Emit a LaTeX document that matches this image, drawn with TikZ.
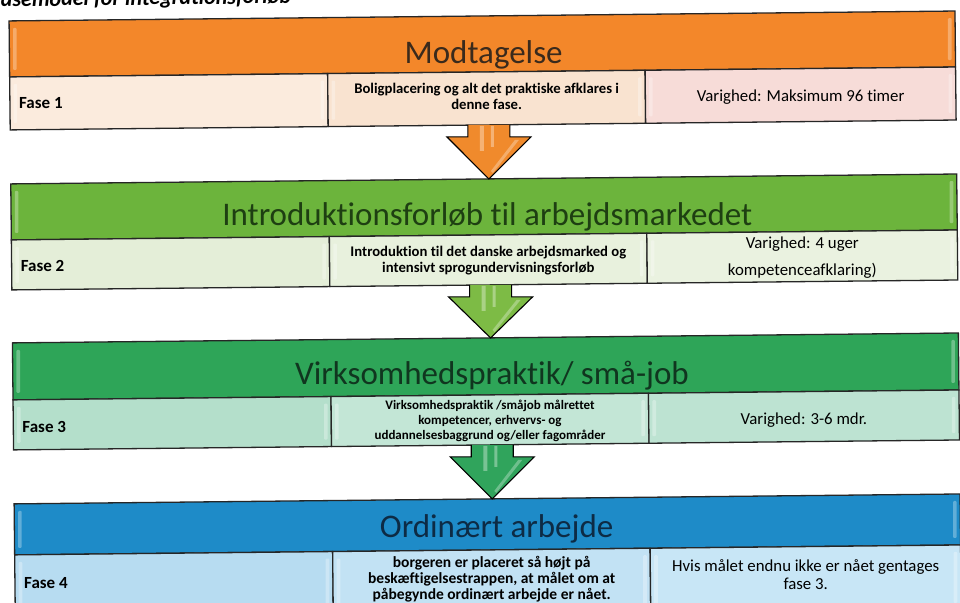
\documentclass[tikz,border=0pt]{standalone}
\usepackage{fontspec}
\setmainfont{Carlito}[Ligatures=NoCommon]
\usetikzlibrary{calc}
\definecolor{orangeband}{HTML}{F3872A}
\definecolor{otxt}{HTML}{3A2A1C}
\definecolor{peachA}{HTML}{FBEBDD}
\definecolor{peachB}{HTML}{F9E3D0}
\definecolor{peachC}{HTML}{F7DCD8}
\definecolor{orangearrow}{HTML}{F08A2C}
\definecolor{gband}{HTML}{6CB43C}
\definecolor{gtxt}{HTML}{1E3F12}
\definecolor{gA}{HTML}{E4EED8}
\definecolor{gB}{HTML}{E8F1DD}
\definecolor{gC}{HTML}{EAF2E0}
\definecolor{garrow}{HTML}{7DBB45}
\definecolor{tband}{HTML}{2EA558}
\definecolor{ttxt}{HTML}{10361F}
\definecolor{tA}{HTML}{B4DFCB}
\definecolor{tB}{HTML}{C3E6D6}
\definecolor{tC}{HTML}{BDE3D2}
\definecolor{tarrow}{HTML}{30A45C}
\definecolor{bband}{HTML}{1E8BC8}
\definecolor{btxt}{HTML}{0D2B45}
\definecolor{bA}{HTML}{B7DCF1}
\definecolor{bB}{HTML}{C2E2F4}
\definecolor{bC}{HTML}{C8E6F6}
\tikzset{
  frame/.style={draw=black!85, line width=1.3pt, anchor=north west, inner sep=0pt, outer sep=0pt},
  ttl/.style={font=\fontsize{33}{36}\selectfont, anchor=base, inner sep=0pt},
  fase/.style={font=\bfseries\fontsize{17}{18}\selectfont, anchor=west, inner sep=0pt},
  midtxt/.style={font=\bfseries\fontsize{14.7}{16}\selectfont, align=center, inner sep=0pt},
  vartxt/.style={font=\fontsize{16.8}{18}\selectfont, align=center, inner sep=0pt},
  blockarrow/.style={draw=black, line width=1.1pt, line join=miter},
  glint/.style={fill=white, opacity=.3, rounded corners=1pt},
}
\newcommand\phasearrow[3]{%
  \draw[blockarrow, fill=#3] let \p1=($(#1.south)+(2,0)$), \p2=(#2.north) in
    (\x1-21pt,\y1) -- (\x1-21pt,\y1-12pt) -- (\x1-42pt,\y1-12pt) -- (\x1,\y2)
    -- (\x1+42pt,\y1-12pt) -- (\x1+21pt,\y1-12pt) -- (\x1+21pt,\y1);
  \fill[white, opacity=.35] let \p1=($(#1.south)+(2,0)$), \p2=(#2.north) in
    (\x1-9pt,\y1-1pt) rectangle (\x1-5pt,\y1-26pt)
    (\x1+2pt,\y1-1pt) rectangle (\x1+5pt,\y1-22pt);
  \fill[white, opacity=.3] let \p1=($(#1.south)+(2,0)$), \p2=(#2.north) in
    (\x1+26pt,\y1-15pt) -- (\x1+30pt,\y1-15pt) -- (\x1+4pt,\y2+6pt) -- (\x1+2pt,\y2+8pt) -- cycle;
}
\newcommand\glints[1]{%
  \fill[glint] ($(#1.north west)+(4,7)$) rectangle ($(#1.south west)+(7,-7)$);
  \fill[glint] ($(#1.north east)+(-7,7)$) rectangle ($(#1.south east)+(-4,-7)$);
}
\begin{document}
\begin{tikzpicture}[x=1pt,y=-1pt]
\useasboundingbox (0,0) rectangle (960,602);
\clip (0,0) rectangle (960,602);
\fill[white] (0,0) rectangle (960,602);

\begin{scope}[rotate around={0.6:(480,301)}, transform shape]
\node[font=\bfseries\itshape\fontsize{22}{24}\selectfont, anchor=base west, inner sep=0pt] (hd) at (-6,1.5) {Fasemodel for integrationsforløb};

% Phase 1
\node[frame, fill=orangeband, minimum width=946pt, minimum height=56pt] (b1) at (12,16) {};
\node[frame, fill=peachA, minimum width=318pt, minimum height=53pt] (f1) at (12,72) {};
\node[frame, fill=peachB, minimum width=317.5pt, minimum height=53pt] (m1) at (330,72) {};
\node[frame, fill=peachC, minimum width=310.5pt, minimum height=53pt] (v1) at (647.5,72) {};
% Phase 2
\node[frame, fill=gband, minimum width=946pt, minimum height=56pt] (b2) at (12,179) {};
\node[frame, fill=gA, minimum width=318pt, minimum height=50pt] (f2) at (12,235) {};
\node[frame, fill=gB, minimum width=317.5pt, minimum height=50pt] (m2) at (330,235) {};
\node[frame, fill=gC, minimum width=310.5pt, minimum height=50pt] (v2) at (647.5,235) {};
% Phase 3
\node[frame, fill=tband, minimum width=946pt, minimum height=57pt] (b3) at (12,338) {};
\node[frame, fill=tA, minimum width=318pt, minimum height=50pt] (f3) at (12,395) {};
\node[frame, fill=tB, minimum width=317.5pt, minimum height=50pt] (m3) at (330,395) {};
\node[frame, fill=tC, minimum width=310.5pt, minimum height=50pt] (v3) at (647.5,395) {};
% Phase 4
\node[frame, fill=bband, minimum width=946pt, minimum height=51pt] (b4) at (12,499) {};
\node[frame, fill=bA, minimum width=318pt, minimum height=65pt] (f4) at (12,550) {};
\node[frame, fill=bB, minimum width=317.5pt, minimum height=65pt] (m4) at (330,550) {};
\node[frame, fill=bC, minimum width=310.5pt, minimum height=65pt] (v4) at (647.5,550) {};
\end{scope}

\glints{b1}\glints{f1}\glints{m1}\glints{v1}
\glints{b2}\glints{f2}\glints{m2}\glints{v2}
\glints{b3}\glints{f3}\glints{m3}\glints{v3}
\glints{b4}\glints{f4}\glints{m4}\glints{v4}

% Texts
\node[ttl, text=otxt] (t1) at ($(b1.south)+(1,-8)$) {Modtagelse};
\node[fase, yshift=0pt] (tf1) at ($(f1.west)+(9,0)$) {Fase 1};
\node[midtxt, yshift=2pt] (tm1) at (m1.center) {Boligplacering og alt det praktiske afklares i\\denne fase.};
\node[vartxt, yshift=-2pt] (tv1) at (v1.center) {Varighed: Maksimum 96 timer};

\node[ttl, text=gtxt] (t2) at ($(b2.south)+(3,-9)$) {Introduktionsforløb til arbejdsmarkedet};
\node[fase, yshift=-1pt] (tf2) at ($(f2.west)+(9,0)$) {Fase 2};
\node[midtxt, yshift=-1pt] (tm2) at (m2.center) {Introduktion til det danske arbejdsmarked og\\intensivt sprogundervisningsforløb};
\node[vartxt, yshift=-1pt] (tv2) at (v2.center) {Varighed: 4 uger\\[9pt]kompetenceafklaring)};

\node[ttl, text=ttxt] (t3) at ($(b3.south)+(6,-10)$) {Virksomhedspraktik/ små-job};
\node[fase, yshift=-2pt] (tf3) at ($(f3.west)+(9,0)$) {Fase 3};
\node[midtxt, font=\bfseries\fontsize{13}{15}\selectfont, yshift=-1pt] (tm3) at (m3.center) {Virksomhedspraktik /småjob målrettet\\kompetencer, erhvervs- og\\uddannelsesbaggrund og/eller fagområder};
\node[vartxt, yshift=-3pt] (tv3) at (v3.center) {Varighed: 3-6 mdr.};

\node[ttl, text=btxt] (t4) at ($(b4.south)+(9,-12)$) {Ordinært arbejde};
\node[fase, yshift=4pt] (tf4) at ($(f4.west)+(9,0)$) {Fase 4};
\node[midtxt, font=\bfseries\fontsize{15.5}{16}\selectfont, yshift=3.5pt] (tm4) at (m4.center) {borgeren er placeret så højt på\\beskæftigelsestrappen, at målet om at\\påbegynde ordinært arbejde er nået.};
\node[vartxt, yshift=4.5pt] (tv4) at (v4.center) {Hvis målet endnu ikke er nået gentages\\fase 3.};

% Arrows
\phasearrow{m1}{b2}{orangearrow}
\phasearrow{m2}{b3}{garrow}
\phasearrow{m3}{b4}{tarrow}
\end{tikzpicture}
\end{document}
